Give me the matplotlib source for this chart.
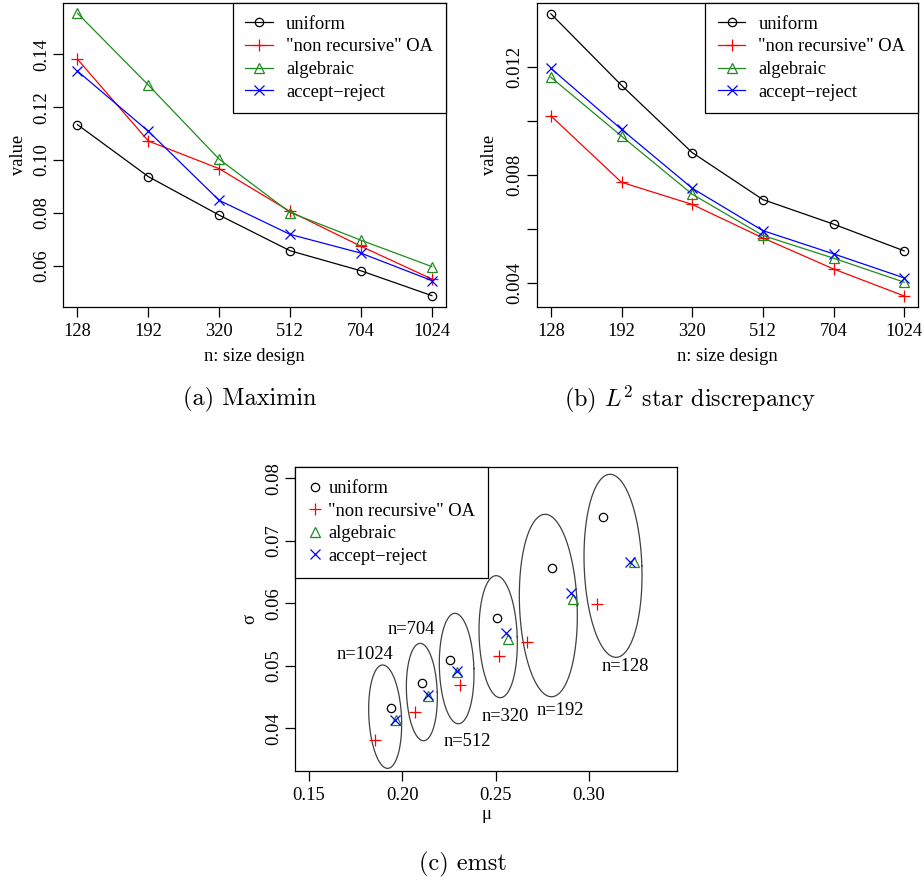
import numpy as np
import matplotlib
matplotlib.use("Agg")
import matplotlib.pyplot as plt
from matplotlib.lines import Line2D

plt.rcParams['font.family'] = ['Liberation Serif', 'DejaVu Serif']
plt.rcParams['mathtext.fontset'] = 'cm'

# ---------------- data ----------------
sizes = ["128", "192", "320", "512", "704", "1024"]
series_names = ["uniform", "\"non recursive\" OA", "algebraic", "accept\u2212reject"]

maximin_uniform = [0.1134, 0.0937, 0.0791, 0.0656, 0.0580, 0.0486]
maximin_oa = [0.1382, 0.1072, 0.0967, 0.0805, 0.0673, 0.0549]
maximin_alg = [0.1556, 0.1284, 0.1003, 0.0801, 0.0696, 0.0596]
maximin_ar = [0.1337, 0.1109, 0.0847, 0.0718, 0.0647, 0.0543]

l2_uniform = [0.01398, 0.01133, 0.00884, 0.00710, 0.00619, 0.00520]
l2_oa = [0.01020, 0.00774, 0.00692, 0.00568, 0.00453, 0.00353]
l2_alg = [0.01163, 0.00945, 0.00730, 0.00577, 0.00493, 0.00404]
l2_ar = [0.01196, 0.00970, 0.00752, 0.00595, 0.00509, 0.00420]

emst_mu_uniform = [0.3073, 0.2802, 0.2505, 0.2257, 0.2105, 0.1939]
emst_sd_uniform = [0.0738, 0.0657, 0.0576, 0.0509, 0.0472, 0.0432]
emst_mu_oa = [0.3045, 0.2668, 0.2520, 0.2307, 0.2070, 0.1854]
emst_sd_oa = [0.0599, 0.0538, 0.0515, 0.0470, 0.0426, 0.0381]
emst_mu_alg = [0.3243, 0.2914, 0.2568, 0.2291, 0.2136, 0.1966]
emst_sd_alg = [0.0666, 0.0607, 0.0543, 0.0490, 0.0452, 0.0413]
emst_mu_ar = [0.3220, 0.2904, 0.2555, 0.2291, 0.2136, 0.1962]
emst_sd_ar = [0.0666, 0.0617, 0.0552, 0.0492, 0.0454, 0.0414]

# ellipses (one per size): centre, half-extent in mu, half-extent in sigma, tilt (mu offset at top)
ell_labels = ["n=128", "n=192", "n=320", "n=512", "n=704", "n=1024"]
ell_cx = [0.31286, 0.27821, 0.25134, 0.22910, 0.21045, 0.19080]
ell_cy = [0.06600, 0.05965, 0.05467, 0.04957, 0.04581, 0.04187]
ell_rx = [0.01554, 0.01554, 0.01027, 0.00929, 0.00830, 0.00884]
ell_ry = [0.01464, 0.01459, 0.00976, 0.00883, 0.00779, 0.00827]
ell_tilt = [-0.0016, -0.0017, -0.0011, -0.0009, -0.0009, -0.0013]
lab_x = [0.3196, 0.2848, 0.2550, 0.2350, 0.2050, 0.1800]
lab_y = [0.04997, 0.04293, 0.04197, 0.03797, 0.05584, 0.05184]

colors = ["black", "#ff0000", "#1f8b1f", "#0000ff"]
markers = ["o", "+", "^", "x"]
msizes = [6.0, 9.0, 7.5, 7.0]

FS = 13.3
W, H = 924, 881
fig = plt.figure(figsize=(W / 100, H / 100), dpi=100)


def px_axes(x0, y0, x1, y1):
    return fig.add_axes([x0 / W, 1 - y1 / H, (x1 - x0) / W, (y1 - y0) / H])


def style_axes(ax):
    for s in ax.spines.values():
        s.set_linewidth(0.9)
        s.set_color("black")
    ax.tick_params(direction="out", length=7.5, width=0.9, labelsize=FS,
                   top=False, right=False, pad=4)
    ax.tick_params(axis="y", pad=2)
    for lab in ax.get_yticklabels():
        lab.set_rotation(90)
        lab.set_va("center")
    ax.xaxis.label.set_va("center")
    ax.yaxis.label.set_va("center")


def line_panel(ax, data, ylim, yticks, ylabels_shown):
    x = np.arange(len(sizes))
    for vals, c, m, ms in zip(data, colors, markers, msizes):
        ax.plot(x, vals, color=c, lw=0.9, marker=m, ms=ms, mfc="none",
                mec=c, mew=0.9)
    ax.set_xlim(-0.2, len(sizes) - 1 + 0.2)
    ax.set_ylim(*ylim)
    ax.set_xticks(x)
    ax.set_xticklabels(sizes)
    ax.set_yticks(yticks)
    ax.set_yticklabels(ylabels_shown)
    ax.set_xlabel("n: size design", fontsize=FS)
    ax.xaxis.set_label_coords(0.5, -0.165)
    ax.set_ylabel("value", fontsize=FS)
    style_axes(ax)
    handles = [Line2D([], [], color=c, lw=0.9, marker=m, ms=ms, mfc="none", mec=c, mew=0.9)
               for c, m, ms in zip(colors, markers, msizes)]
    leg = ax.legend(handles, series_names, loc="upper right", bbox_to_anchor=(1, 1),
                    borderaxespad=0, fontsize=FS, frameon=True, fancybox=False,
                    edgecolor="black", framealpha=1, handlelength=1.5,
                    handletextpad=0.7, labelspacing=0.3, borderpad=0.7)
    leg.get_frame().set_linewidth(0.9)


# panel (a)
axa = px_axes(63.3, 3, 446, 306.7)
line_panel(axa, [maximin_uniform, maximin_oa, maximin_alg, maximin_ar],
           (0.0444, 0.1595), [0.06, 0.08, 0.10, 0.12, 0.14],
           ["0.06", "0.08", "0.10", "0.12", "0.14"])
axa.yaxis.set_label_coords(-0.118, 0.5)

# panel (b)
axb = px_axes(536.7, 3, 918.3, 306.7)
line_panel(axb, [l2_uniform, l2_oa, l2_alg, l2_ar],
           (0.003133, 0.014378), [0.004, 0.006, 0.008, 0.010, 0.012],
           ["0.004", "", "0.008", "", "0.012"])
axb.yaxis.set_label_coords(-0.124, 0.5)

# panel (c)
axc = px_axes(295, 467.3, 677.3, 770.7)
t = np.linspace(0, 2 * np.pi, 300)
for cx, cy, rx, ry, d in zip(ell_cx, ell_cy, ell_rx, ell_ry, ell_tilt):
    ax_ = np.sqrt(max(rx ** 2 - d ** 2, 0))
    axc.plot(cx + ax_ * np.cos(t) + d * np.sin(t), cy + ry * np.sin(t),
             color="#404040", lw=0.9)
for lab, lx, ly in zip(ell_labels, lab_x, lab_y):
    axc.text(lx, ly, lab, fontsize=FS, ha="center", va="center")
emst_mu = [emst_mu_uniform, emst_mu_oa, emst_mu_alg, emst_mu_ar]
emst_sd = [emst_sd_uniform, emst_sd_oa, emst_sd_alg, emst_sd_ar]
for mu, sd, c, m, ms in zip(emst_mu, emst_sd, colors, markers, msizes):
    axc.plot(mu, sd, ls="none", marker=m, ms=ms, mfc="none", mec=c, mew=0.9)
axc.set_xlim(0.1425, 0.3473)
axc.set_ylim(0.03323, 0.08176)
axc.set_xticks([0.15, 0.20, 0.25, 0.30])
axc.set_xticklabels(["0.15", "0.20", "0.25", "0.30"])
axc.set_yticks([0.04, 0.05, 0.06, 0.07, 0.08])
axc.set_yticklabels(["0.04", "0.05", "0.06", "0.07", "0.08"])
axc.set_xlabel("\u03bc", fontsize=FS)
axc.xaxis.set_label_coords(0.5, -0.146)
axc.set_ylabel("\u03c3", fontsize=FS)
axc.yaxis.set_label_coords(-0.118, 0.5)
style_axes(axc)
handles = [Line2D([], [], ls="none", marker=m, ms=ms, mfc="none", mec=c, mew=0.9)
           for c, m, ms in zip(colors, markers, msizes)]
legc = axc.legend(handles, series_names, loc="upper left", bbox_to_anchor=(0, 1),
                  borderaxespad=0, fontsize=FS, frameon=True, fancybox=False,
                  edgecolor="black", framealpha=1, handlelength=0.8,
                  handletextpad=0.3, labelspacing=0.3, borderpad=0.7)
legc.get_frame().set_linewidth(0.9)

# captions
cap_kw = dict(fontsize=17.5, ha="center", va="center", family=["cmr10", "DejaVu Serif"])
fig.text(250 / W, 1 - 399 / H, "(a) Maximin", **cap_kw)
fig.text(690 / W, 1 - 399 / H, "(b) $L^2$ star discrepancy", **cap_kw)
fig.text(463 / W, 1 - 864 / H, "(c) emst", **cap_kw)

fig.savefig("out.png", dpi=100, facecolor="white")
